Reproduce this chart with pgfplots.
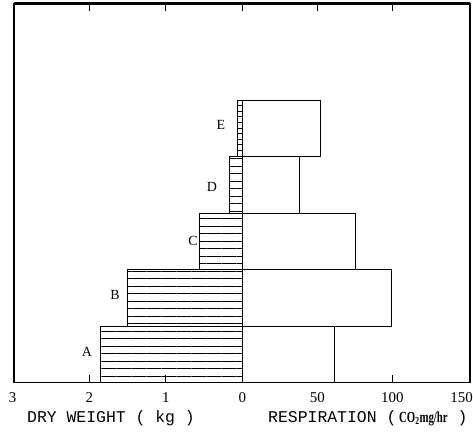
\documentclass[border=0pt]{standalone}
\usepackage{fontspec}
\usepackage{graphicx}
\usepackage{pgfplots}
\usepackage{pgfplotstable}
\pgfplotsset{compat=1.18}
\usetikzlibrary{patterns.meta}
\setmainfont{Liberation Serif}
\newfontfamily\monofont{Liberation Mono}
\newcommand\tickfont{\fontsize{15}{15}\selectfont}
\newcommand\layerfont{\fontsize{14}{14}\selectfont}

% dry weight in kg (left, drawn leftwards), respiration in CO2 mg/hr (right)
\pgfplotstableread{
layer pos dw    resp
A     0.5 1.86  61
B     1.5 1.495 99
C     2.5 0.555 75.5
D     3.5 0.17  37.7
E     4.5 0.065 51.7
}\layers

% 1 kg of dry weight occupies 51.07 units of the shared axis
\def\kg{51.07}

\begin{document}
\begin{tikzpicture}
\useasboundingbox (0,0) rectangle (473bp,436bp);
\begin{axis}[
  at={(14bp,53.3bp)}, anchor=south west,
  scale only axis, width=456bp, height=379.4bp,
  xmin=-152.3, xmax=151.7, ymin=0, ymax=6.715,
  ytick=\empty,
  xtick={-102.14,-51.07,0,50,100},
  xticklabels={2,1,0,50,100},
  tick align=inside,
  major tick length=8bp,
  tick style={line width=1bp, black},
  axis line style={line width=1.4bp},
  xticklabel style={font=\tickfont, inner sep=0pt, anchor=north, yshift=-9.3bp},
  /pgf/number format/assume math mode=true,
  clip=false,
  xbar, bar width=1, bar shift=0,
]
% respiration (open boxes)
\addplot[draw=black, line width=0.9bp, fill=white]
  table[y=pos, x=resp] {\layers};
% dry weight, layers A--D (ruled)
\addplot[draw=black, line width=0.9bp,
  pattern={Lines[angle=0, distance=7.5bp, line width=0.6bp]}, pattern color=black,
  restrict y to domain=0:4]
  table[y=pos, x expr=-\thisrow{dw}*\kg] {\layers};
% dry weight, layer E (finer ruling)
\addplot[draw=black, line width=0.9bp,
  pattern={Lines[angle=0, distance=5.6bp, line width=0.6bp]}, pattern color=black,
  restrict y to domain=4:5]
  table[y=pos, x expr=-\thisrow{dw}*\kg] {\layers};

% heavier top rule of the frame
\draw[line width=3bp] (rel axis cs:0,1) -- (rel axis cs:1,1);

% end labels of the scale
\node[font=\tickfont, inner sep=0pt, anchor=north, yshift=-9.3bp] at (axis cs:-153.2,0) {3};

% layer names
\node[font=\layerfont] at (axis cs:-103.7,0.54) {A};
\node[font=\layerfont] at (axis cs:-85,1.55) {B};
\node[font=\layerfont] at (axis cs:-33,2.5) {C};
\node[font=\layerfont] at (axis cs:-20.3,3.47) {D};
\node[font=\layerfont] at (axis cs:-14.3,4.56) {E};
\end{axis}

% last scale label, kept inside the page edge
\node[font=\tickfont, inner sep=0pt, anchor=north east] at (473bp,44bp) {150};

% axis titles
\node[anchor=base, inner sep=0pt, font=\monofont\fontsize{16.5}{16.5}\selectfont]
  at (111bp,14bp) {DRY WEIGHT ( kg )};
\node[anchor=base west, inner sep=0pt, font=\monofont\fontsize{16.5}{16.5}\selectfont]
  at (268bp,14bp) {RESPIRATION (\,\scalebox{0.7}[1]{\fontsize{15.5}{15.5}\rmfamily\bfseries CO\textsubscript{2}mg/hr} )};
\end{tikzpicture}
\end{document}
